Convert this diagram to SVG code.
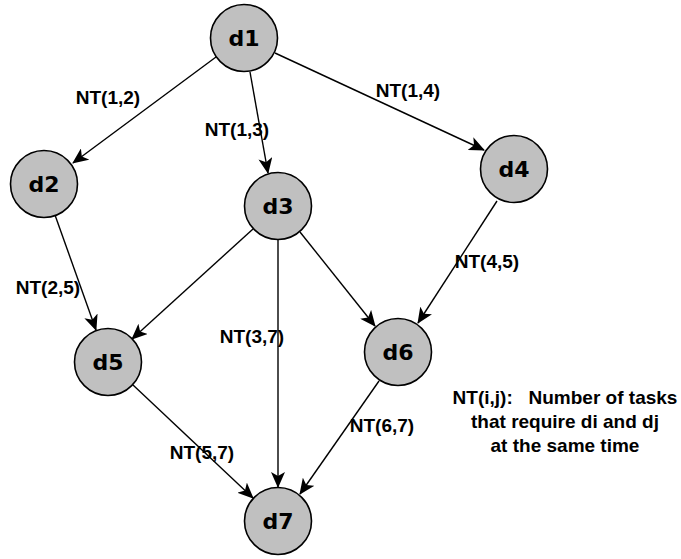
<svg xmlns="http://www.w3.org/2000/svg" width="681" height="559" viewBox="0 0 681 559">
  <style>
    .node circle { fill: #c0c0c0; stroke: #000; stroke-width: 1.6; }
    .node text { font-family: "DejaVu Sans", Verdana, sans-serif; font-weight: bold; font-size: 22px; text-anchor: middle; fill: #000; }
    .edge { stroke: #000; stroke-width: 1.4; fill: none; marker-end: url(#arrow); }
    .lbl { font-family: "Liberation Sans", Arial, sans-serif; font-weight: bold; font-size: 19px; text-anchor: middle; fill: #000; }
  </style>
  <defs>
    <marker id="arrow" viewBox="0 0 16 14" refX="15" refY="7" markerWidth="16" markerHeight="14" markerUnits="userSpaceOnUse" orient="auto">
      <path d="M0,0 L16,7 L0,14 L4,7 z" fill="#000"/>
    </marker>
  </defs>
  <rect width="681" height="559" fill="#fff"/>

  <g id="connectors">
    <line class="edge" x1="216" y1="57" x2="73" y2="163"/>
    <line class="edge" x1="250" y1="72" x2="268" y2="173"/>
    <line class="edge" x1="275" y1="53" x2="484" y2="150"/>
    <line class="edge" x1="55" y1="215" x2="96" y2="330"/>
    <line class="edge" x1="253" y1="229" x2="132" y2="339"/>
    <line class="edge" x1="300" y1="232" x2="375" y2="326"/>
    <line class="edge" x1="278" y1="240" x2="278" y2="487"/>
    <line class="edge" x1="497" y1="201" x2="418" y2="323"/>
    <line class="edge" x1="133" y1="385" x2="253" y2="498"/>
    <line class="edge" x1="379" y1="381" x2="300" y2="494"/>
  </g>

  <g id="edge-labels">
    <text class="lbl" x="108" y="104">NT(1,2)</text>
    <text class="lbl" x="237" y="136">NT(1,3)</text>
    <text class="lbl" x="408" y="97">NT(1,4)</text>
    <text class="lbl" x="48" y="294">NT(2,5)</text>
    <text class="lbl" x="487" y="268">NT(4,5)</text>
    <text class="lbl" x="252" y="343">NT(3,7)</text>
    <text class="lbl" x="202" y="459">NT(5,7)</text>
    <text class="lbl" x="382" y="432">NT(6,7)</text>
  </g>

  <g id="d1" class="node"><circle cx="244" cy="38" r="33.5"/><text x="244" y="46">d1</text></g>
  <g id="d2" class="node"><circle cx="44" cy="184" r="33.5"/><text x="44" y="192">d2</text></g>
  <g id="d3" class="node"><circle cx="278" cy="206" r="33.5"/><text x="278" y="214">d3</text></g>
  <g id="d4" class="node"><circle cx="514" cy="169" r="33.5"/><text x="514" y="177">d4</text></g>
  <g id="d5" class="node"><circle cx="108" cy="362" r="33.5"/><text x="108" y="370">d5</text></g>
  <g id="d6" class="node"><circle cx="398" cy="352" r="33.5"/><text x="398" y="360">d6</text></g>
  <g id="d7" class="node"><circle cx="278" cy="521" r="33.5"/><text x="278" y="529">d7</text></g>

  <g id="legend" class="lbl">
    <text x="565" y="404" xml:space="preserve">NT(i,j):   Number of tasks</text>
    <text x="565" y="428">that require di and dj</text>
    <text x="565" y="452">at the same time</text>
  </g>
</svg>
